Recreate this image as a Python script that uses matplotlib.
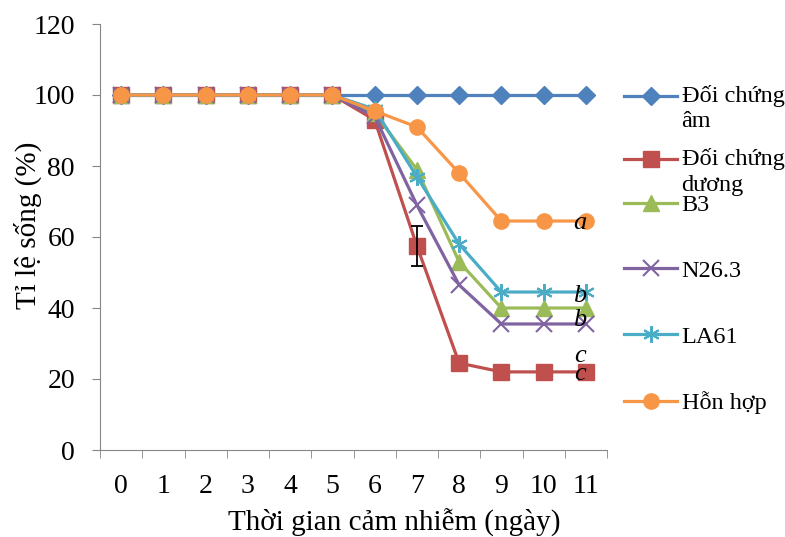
import numpy as np
import matplotlib
matplotlib.use('Agg')
from matplotlib import pyplot as plt
from matplotlib.legend_handler import HandlerLine2D

plt.rcParams['font.family'] = ['Liberation Serif', 'DejaVu Serif']

#%% DATA
days = list(range(12))
am = [100]*12
duong = [100, 100, 100, 100, 100, 100, 93, 57.5, 24.5, 22, 22, 22]
b3 = [100, 100, 100, 100, 100, 100, 95, 79, 53, 40, 40, 40]
n263 = [100, 100, 100, 100, 100, 100, 94, 69, 46.5, 35.5, 35.5, 35.5]
la61 = [100, 100, 100, 100, 100, 100, 96, 77, 58, 44.5, 44.5, 44.5]
hon_hop = [100, 100, 100, 100, 100, 100, 95.5, 91, 78, 64.5, 64.5, 64.5]
duong_err_day = 7
duong_err = 5.6

letters = ['a', 'b', 'b', 'c', 'c']
letter_y = [64, 43.5, 36.5, 26.5, 21.5]

labels = ['Đối chứng\nâm', 'Đối chứng\ndương', 'B3', 'N26.3', 'LA61', 'Hỗn hợp']

LEG_FS = 17.5


class FirstLineHandler(HandlerLine2D):
    # put the legend line next to the first text line (like Excel)
    def create_artists(self, legend, orig_handle, xdescent, ydescent,
                       width, height, fontsize, trans):
        arts = super().create_artists(legend, orig_handle, xdescent, ydescent,
                                      width, height, fontsize, trans)
        for a in arts:
            a.set_ydata(np.asarray(a.get_ydata()) + 0.5*fontsize)
        return arts


#%% PLOT
fig = plt.figure(figsize=(7.85, 5.37), dpi=100)
ax = fig.add_axes([100/785, 1-450/537, 507/785, 426/537])

lw = 2.3
h = []
h += ax.plot(days, am, color='#4F81BD', lw=lw, marker='D', ms=9, label=labels[0])
h += ax.plot(days, duong, color='#C0504D', lw=lw, marker='s', ms=11, label=labels[1])
h += ax.plot(days, b3, color='#9BBB59', lw=lw, marker='^', ms=11, label=labels[2])
h += ax.plot(days, n263, color='#8064A2', lw=lw, marker='x', ms=11, mew=1.5, label=labels[3])
h += ax.plot(days, la61, color='#4BACC6', lw=lw, marker=(6, 2, 0), ms=12, mew=1.5, label=labels[4])
h += ax.plot(days, hon_hop, color='#F79646', lw=lw, marker='o', ms=11, label=labels[5])
ax.errorbar(days[duong_err_day], duong[duong_err_day], yerr=duong_err,
            fmt='none', ecolor='black', elinewidth=1.3, capsize=4.5, capthick=1.3)

for s, yv in zip(letters, letter_y):
    ax.text(10.86, yv, s, fontsize=19, style='italic', ha='center', va='center')

ax.set_xlim(-0.5, 11.5)
ax.set_ylim(0, 120)
ax.set_yticks(np.arange(0, 121, 20))
ax.set_xticks(days)
ax.set_xticks(np.arange(-0.5, 12, 1), minor=True)
ax.tick_params(axis='x', which='major', length=0, labelsize=20, pad=17)
ax.tick_params(axis='x', which='minor', length=6, color='#868686', direction='out')
ax.tick_params(axis='y', length=6, color='#868686', labelsize=20, pad=12)
for side in ['top', 'right']:
    ax.spines[side].set_visible(False)
for side in ['left', 'bottom']:
    ax.spines[side].set_color('#868686')

ax.set_ylabel('Tỉ lệ sống (%)', fontsize=21)
ax.set_xlabel('Thời gian cảm nhiễm (ngày)', fontsize=21)
ax.yaxis.set_label_coords(-0.115, 0.528)
ax.xaxis.set_label_coords(0.58, -0.137)

kw = dict(loc='upper left', frameon=False, fontsize=LEG_FS, handlelength=2.2,
          handletextpad=0.17, borderaxespad=0, borderpad=0,
          bbox_transform=fig.transFigure)
leg1 = ax.legend(h[:2], labels[:2], bbox_to_anchor=(624/785, 1-85/537),
                 labelspacing=0.65, handler_map={h[0]: FirstLineHandler(), h[1]: FirstLineHandler()},
                 **kw)
for t in leg1.get_texts():
    t.set_linespacing(1.28)
ax.add_artist(leg1)
leg2 = ax.legend(h[2:], labels[2:], bbox_to_anchor=(624/785, 1-194/537),
                 labelspacing=1.8, **kw)

fig.savefig('out.png', dpi=100)
